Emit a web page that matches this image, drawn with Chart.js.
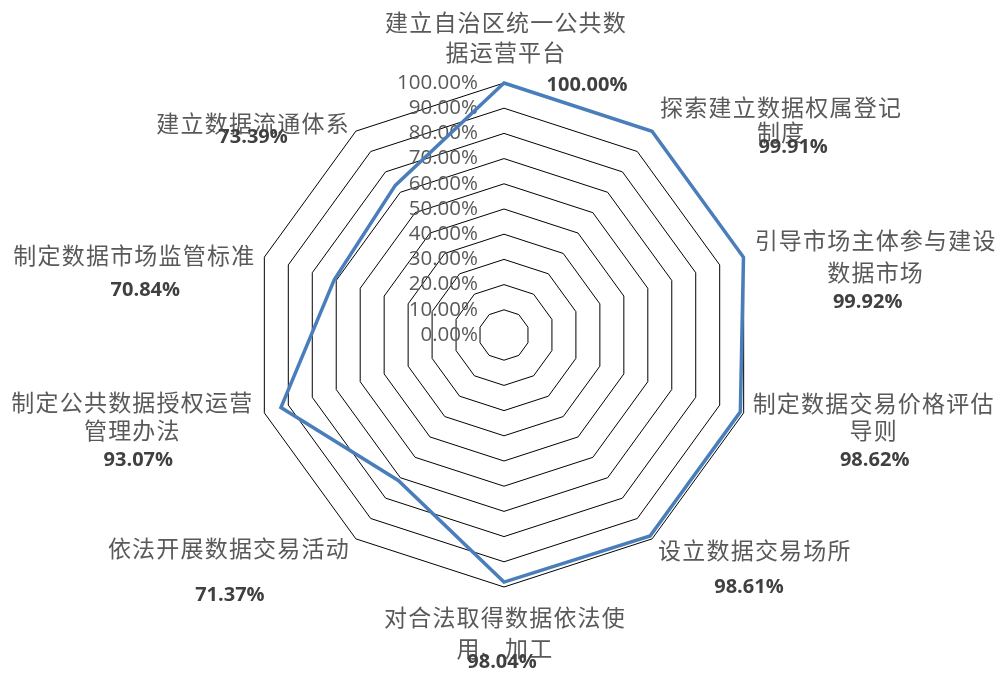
<!DOCTYPE html>
<html><head><meta charset="utf-8">
<script src="https://cdn.jsdelivr.net/npm/chart.js@4/dist/chart.umd.min.js"></script>
<style>html,body{margin:0;padding:0;background:#fff;} #wrap{width:1003px;height:675px;}</style>
</head><body><div id="wrap"><canvas id="c" width="1003" height="675"></canvas></div>
<script>
// ---- data ----
const categories = [
  '建立自治区统一公共数据运营平台',
  '探索建立数据权属登记制度',
  '引导市场主体参与建设数据市场',
  '制定数据交易价格评估导则',
  '设立数据交易场所',
  '对合法取得数据依法使用、加工',
  '依法开展数据交易活动',
  '制定公共数据授权运营管理办法',
  '制定数据市场监管标准',
  '建立数据流通体系'
];
const categoryLines = [
  ['建立自治区统一公共数', '据运营平台'],
  ['探索建立数据权属登记', '制度'],
  ['引导市场主体参与建设', '数据市场'],
  ['制定数据交易价格评估', '导则'],
  ['设立数据交易场所'],
  ['对合法取得数据依法使', '用、加工'],
  ['依法开展数据交易活动'],
  ['制定公共数据授权运营', '管理办法'],
  ['制定数据市场监管标准'],
  ['建立数据流通体系']
];
const values = [100.00, 99.91, 99.92, 98.62, 98.61, 98.04, 71.37, 93.07, 70.84, 73.39];
const tickValues = [0, 10, 20, 30, 40, 50, 60, 70, 80, 90, 100];
const tickLabels = ['0.00%', '10.00%', '20.00%', '30.00%', '40.00%', '50.00%', '60.00%', '70.00%', '80.00%', '90.00%', '100.00%'];

// ---- label layout (text placement relative to each axis end) ----
const labelLayout = [
  {align: 'c', gap: 2,  dy: -61, lh: 30, px: 81, py: 63},
  {align: 'l', gap: 8,  dy: -24, lh: 25, px: 12, py: 40},
  {align: 'l', gap: 11, dy: -17, lh: 32, px: -8, py: 62},
  {align: 'l', gap: 9,  dy: -10, lh: 27, px: 1,  py: 57},
  {align: 'l', gap: 6,  dy: 11,  lh: 30, px: -6, py: 37},
  {align: 'c', gap: 1,  dy: 30,  lh: 31, px: -3, py: 45},
  {align: 'r', gap: 6,  dy: 9,   lh: 30, px: 1,  py: 47},
  {align: 'r', gap: 11, dy: -11, lh: 28, px: 6,  py: 58},
  {align: 'r', gap: 9,  dy: -2,  lh: 30, px: 11, py: 35},
  {align: 'r', gap: 6,  dy: -8,  lh: 30, px: 0,  py: 14}
];

const catFont = '23px "Noto Sans CJK SC", "Noto Sans", sans-serif';
const pctFont = 'bold 20px "Open Sans", "Noto Sans", sans-serif';
const tickFont = '20.5px "Open Sans", "Noto Sans", sans-serif';

const labelPlugin = {
  id: 'radarLabels',
  beforeDatasetsDraw(chart) {
    const s = chart.scales.r, ctx = chart.ctx;
    ctx.save();
    ctx.font = tickFont;
    ctx.fillStyle = '#595959';
    ctx.textAlign = 'right';
    ctx.textBaseline = 'middle';
    tickValues.forEach((v, i) => {
      const y = s.yCenter - s.getDistanceFromCenterForValue(v);
      ctx.fillText(tickLabels[i], s.xCenter - 26, y);
    });
    ctx.restore();
  },
  afterDatasetsDraw(chart) {
    const s = chart.scales.r, ctx = chart.ctx;
    ctx.save();
    ctx.textBaseline = 'middle';
    ctx.textAlign = 'center';
    categoryLines.forEach((lines, i) => {
      const L = labelLayout[i];
      const p = s.getPointPosition(i, s.drawingArea);
      ctx.font = catFont;
      try { ctx.letterSpacing = '1.2px'; } catch (e) {}
      const maxW = Math.max(...lines.map(t => ctx.measureText(t).width));
      let bx;
      if (L.align === 'l') bx = p.x + L.gap + maxW / 2;
      else if (L.align === 'r') bx = p.x - L.gap - maxW / 2;
      else bx = p.x + L.gap;
      const y1 = p.y + L.dy;
      ctx.fillStyle = '#595959';
      lines.forEach((t, k) => ctx.fillText(t, bx, y1 + k * L.lh));
      try { ctx.letterSpacing = '0px'; } catch (e) {}
      ctx.font = pctFont;
      ctx.fillStyle = '#404040';
      ctx.fillText(values[i].toFixed(2) + '%', bx + L.px, y1 + L.py);
    });
    ctx.restore();
  }
};

new Chart(document.getElementById('c'), {
  type: 'radar',
  data: {
    labels: categories,
    datasets: [{
      data: values,
      borderColor: '#4A7EBB',
      borderWidth: 3.5,
      fill: false,
      pointRadius: 0,
      pointHoverRadius: 0,
      tension: 0
    }]
  },
  options: {
    responsive: false,
    animation: false,
    layout: {padding: {left: 252, right: 247, top: 83, bottom: 88}},
    plugins: {legend: {display: false}, tooltip: {enabled: false}},
    scales: {
      r: {
        min: 0, max: 100,
        ticks: {display: false, stepSize: 10},
        grid: {color: '#000000', lineWidth: 1},
        angleLines: {display: false},
        pointLabels: {display: false}
      }
    }
  },
  plugins: [labelPlugin]
});
</script>
</body></html>
